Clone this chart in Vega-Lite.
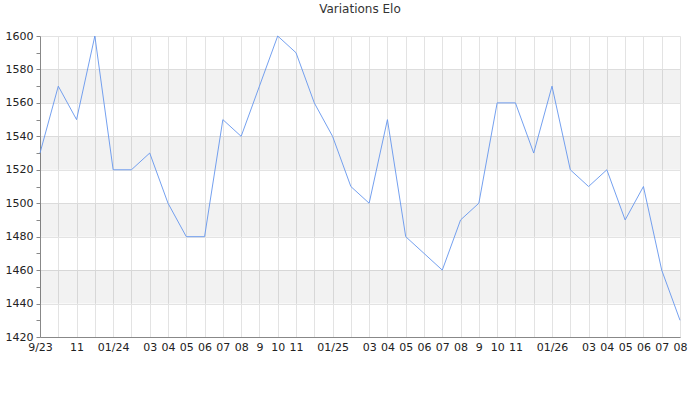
{
  "$schema": "https://vega.github.io/schema/vega-lite/v6.json",
  "width": 640,
  "height": 301,
  "autosize": {"type": "none"},
  "padding": {"left": 40, "top": 36, "right": 20, "bottom": 63},
  "background": "white",
  "title": {
    "text": "Variations Elo",
    "font": "DejaVu Sans",
    "fontSize": 12,
    "fontWeight": "normal",
    "color": "#333",
    "anchor": "middle",
    "offset": 14
  },
  "datasets": {
    "elo": [
      {"mois": "2023-09", "elo": 1530},
      {"mois": "2023-10", "elo": 1570},
      {"mois": "2023-11", "elo": 1550},
      {"mois": "2023-12", "elo": 1600},
      {"mois": "2024-01", "elo": 1520},
      {"mois": "2024-02", "elo": 1520},
      {"mois": "2024-03", "elo": 1530},
      {"mois": "2024-04", "elo": 1500},
      {"mois": "2024-05", "elo": 1480},
      {"mois": "2024-06", "elo": 1480},
      {"mois": "2024-07", "elo": 1550},
      {"mois": "2024-08", "elo": 1540},
      {"mois": "2024-09", "elo": 1570},
      {"mois": "2024-10", "elo": 1600},
      {"mois": "2024-11", "elo": 1590},
      {"mois": "2024-12", "elo": 1560},
      {"mois": "2025-01", "elo": 1540},
      {"mois": "2025-02", "elo": 1510},
      {"mois": "2025-03", "elo": 1500},
      {"mois": "2025-04", "elo": 1550},
      {"mois": "2025-05", "elo": 1480},
      {"mois": "2025-06", "elo": 1470},
      {"mois": "2025-07", "elo": 1460},
      {"mois": "2025-08", "elo": 1490},
      {"mois": "2025-09", "elo": 1500},
      {"mois": "2025-10", "elo": 1560},
      {"mois": "2025-11", "elo": 1560},
      {"mois": "2025-12", "elo": 1530},
      {"mois": "2026-01", "elo": 1570},
      {"mois": "2026-02", "elo": 1520},
      {"mois": "2026-03", "elo": 1510},
      {"mois": "2026-04", "elo": 1520},
      {"mois": "2026-05", "elo": 1490},
      {"mois": "2026-06", "elo": 1510},
      {"mois": "2026-07", "elo": 1460},
      {"mois": "2026-08", "elo": 1430}
    ],
    "bandes": [
      {"bas": 1440, "haut": 1460},
      {"bas": 1480, "haut": 1500},
      {"bas": 1520, "haut": 1540},
      {"bas": 1560, "haut": 1580}
    ]
  },
  "layer": [
    {
      "data": {"name": "bandes"},
      "mark": {"type": "rect", "color": "#000", "opacity": 0.05},
      "encoding": {
        "y": {
          "field": "bas",
          "type": "quantitative",
          "scale": {"domain": [1420, 1600], "nice": false, "zero": false},
          "axis": {
            "title": null,
            "values": [1420, 1430, 1440, 1450, 1460, 1470, 1480, 1490, 1500, 1510, 1520, 1530, 1540, 1550, 1560, 1570, 1580, 1590, 1600],
            "labelExpr": "datum.value % 20 == 0 ? datum.label : ''",
            "labelOverlap": false,
            "labelFont": "DejaVu Sans",
            "labelFontSize": 11,
            "labelColor": "#222",
            "labelPadding": 3,
            "tickSize": 4,
            "tickColor": "#888",
            "domainColor": "#888",
            "grid": true,
            "gridColor": "#e3e3e3",
            "gridOpacity": {"condition": {"test": "datum.value % 20 == 0", "value": 1}, "value": 0},
            "format": "d"
          }
        },
        "y2": {"field": "haut"}
      }
    },
    {
      "data": {"name": "elo"},
      "mark": {"type": "line", "color": "#6495ED", "strokeWidth": 0.9},
      "encoding": {
        "x": {
          "field": "mois",
          "type": "ordinal",
          "scale": {"type": "point", "padding": 0},
          "axis": {
            "title": null,
            "labelAngle": 0,
            "labelFont": "DejaVu Sans",
            "labelFontSize": 11,
            "labelColor": "#222",
            "labelPadding": 4,
            "labelOverlap": false,
            "ticks": false,
            "grid": true,
            "gridColor": "#e3e3e3",
            "domainColor": "#888",
            "labelExpr": "datum.value == '2023-09' ? '9/23' : datum.value == '2023-10' ? '' : toNumber(substring(datum.value, 5, 7)) == 1 ? '01/' + substring(datum.value, 2, 4) : (toNumber(substring(datum.value, 5, 7)) == 2 || toNumber(substring(datum.value, 5, 7)) == 12) ? '' : substring(datum.value, 5, 7) == '09' ? '9' : substring(datum.value, 5, 7)"
          }
        },
        "y": {
          "field": "elo",
          "type": "quantitative",
          "axis": {
            "title": null,
            "values": [1420, 1430, 1440, 1450, 1460, 1470, 1480, 1490, 1500, 1510, 1520, 1530, 1540, 1550, 1560, 1570, 1580, 1590, 1600],
            "labelExpr": "datum.value % 20 == 0 ? datum.label : ''",
            "labelOverlap": false,
            "labelFont": "DejaVu Sans",
            "labelFontSize": 11,
            "labelColor": "#222",
            "labelPadding": 3,
            "tickSize": 4,
            "tickColor": "#888",
            "domainColor": "#888",
            "grid": true,
            "gridColor": "#e3e3e3",
            "gridOpacity": {"condition": {"test": "datum.value % 20 == 0", "value": 1}, "value": 0},
            "format": "d"
          }
        }
      }
    }
  ],
  "config": {
    "view": {"stroke": null}
  }
}
